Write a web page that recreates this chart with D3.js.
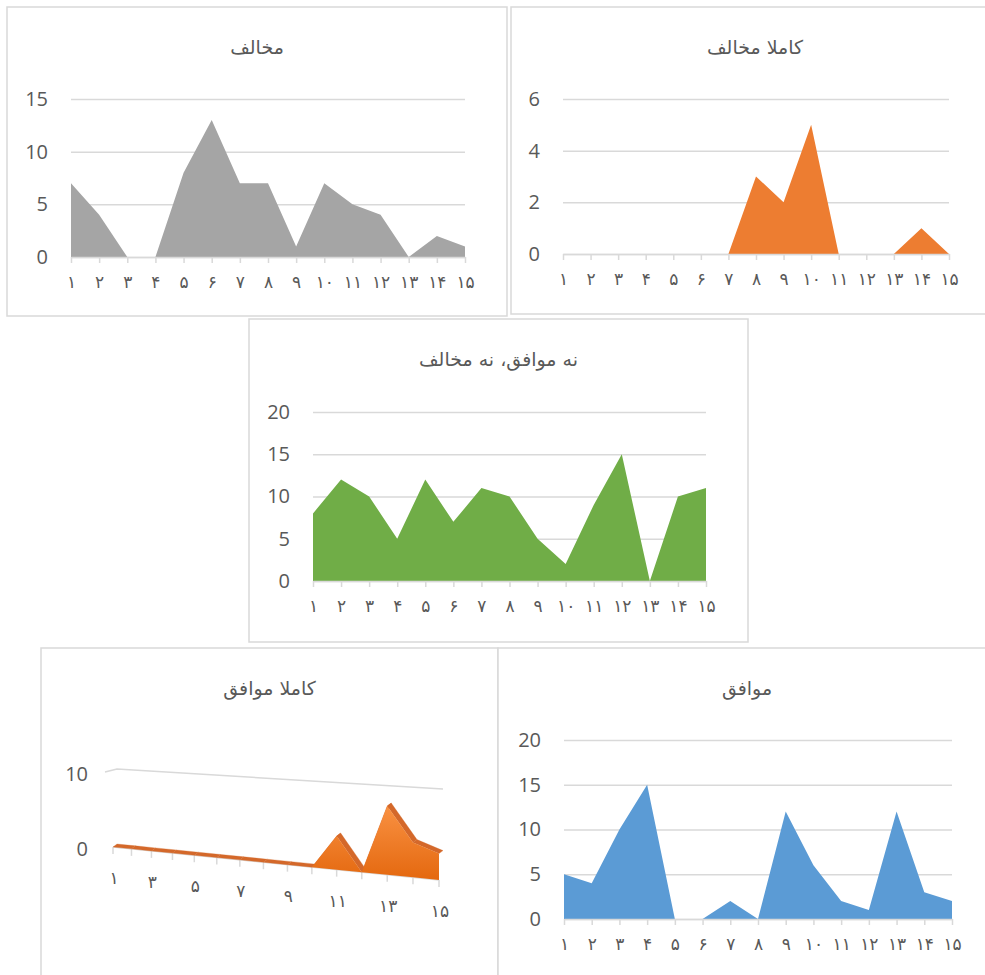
<!DOCTYPE html>
<html>
<head>
<meta charset="utf-8">
<script src="https://cdn.jsdelivr.net/npm/d3@7"></script>
<style>
  body { margin: 0; background: #fff; }
  svg { display: block; }
</style>
</head>
<body>
<div id="chart"></div>
<script>
// data
const categories = ["۱", "۲", "۳", "۴", "۵", "۶", "۷", "۸", "۹", "۱۰", "۱۱", "۱۲", "۱۳", "۱۴", "۱۵"]

const mokhalefValues = [7, 4, 0, 0, 8, 13, 7, 7, 1, 7, 5, 4, 0, 2, 1]
const kamelanMokhalefValues = [0, 0, 0, 0, 0, 0, 0, 3, 2, 5, 0, 0, 0, 1, 0]
const neutralValues = [8, 12, 10, 5, 12, 7, 11, 10, 5, 2, 9, 15, 0, 10, 11]
const movafeghValues = [5, 4, 10, 15, 0, 0, 2, 0, 12, 6, 2, 1, 12, 3, 2]
const kamelanMovafeghValues = [0, 0, 0, 0, 0, 0, 0, 0, 0, 0, 4, 0, 8, 4, 3]

const mokhalefTicks = [0, 5, 10, 15]
const kamelanMokhalefTicks = [0, 2, 4, 6]
const neutralTicks = [0, 5, 10, 15, 20]
const movafeghTicks = [0, 5, 10, 15, 20]
const kamelanMovafeghTicks = [0, 10]

const titles = ["مخالف", "کاملا مخالف", "نه موافق، نه مخالف", "کاملا موافق", "موافق"]

function drawCharts() {

  const width = 985
  const height = 975
  const gridColor = "#d9d9d9"
  const textColor = "#595959"
  const persianFont = "'DejaVu Sans', sans-serif"
  const numberFont = "'Open Sans', 'Noto Sans', sans-serif"

  const wrapper = d3.select("#chart")
    .append("svg")
      .attr("width", width)
      .attr("height", height)

  const defs = wrapper.append("defs")
  const grad = defs.append("linearGradient")
      .attr("id", "orange3d")
      .attr("x1", 0).attr("y1", 0)
      .attr("x2", 0).attr("y2", 1)
  grad.append("stop").attr("offset", "0%").attr("stop-color", "#f99142")
  grad.append("stop").attr("offset", "100%").attr("stop-color", "#e4680f")

  // panel frames
  const frames = [
    { x: 7, y: 7, w: 500, h: 309 },
    { x: 511, y: 7, w: 490, h: 307 },
    { x: 249, y: 319, w: 499, h: 323 },
    { x: 41, y: 648, w: 457, h: 340 },
    { x: 498, y: 648, w: 500, h: 340 },
  ]
  wrapper.selectAll("rect.frame")
    .data(frames)
    .join("rect")
      .attr("class", "frame")
      .attr("x", d => d.x)
      .attr("y", d => d.y)
      .attr("width", d => d.w)
      .attr("height", d => d.h)
      .attr("fill", "#fff")
      .attr("stroke", gridColor)
      .attr("stroke-width", 1.5)

  // titles
  wrapper.selectAll("text.title")
    .data(titles)
    .join("text")
      .attr("class", "title")
      .attr("x", (d, i) => frames[i].x + frames[i].w / 2 - (i == 1 || i == 4 ? 1 : 0))
      .attr("y", (d, i) => frames[i].y + 47)
      .attr("text-anchor", "middle")
      .style("font-family", persianFont)
      .style("font-size", "19px")
      .attr("fill", textColor)
      .text(d => d)

  const panels = [
    { values: mokhalefValues, ticks: mokhalefTicks, color: "#a5a5a5", x0: 71, x1: 465, y0: 257, yTop: 99 },
    { values: kamelanMokhalefValues, ticks: kamelanMokhalefTicks, color: "#ed7d31", x0: 563, x1: 949, y0: 254, yTop: 99 },
    { values: neutralValues, ticks: neutralTicks, color: "#70ad47", x0: 313, x1: 706, y0: 581, yTop: 412 },
    { values: movafeghValues, ticks: movafeghTicks, color: "#5b9bd5", x0: 564, x1: 952, y0: 919, yTop: 740 },
  ]

  panels.forEach(p => {
    const xScale = d3.scalePoint()
      .domain(categories)
      .range([p.x0, p.x1])

    const yScale = d3.scaleLinear()
      .domain([0, d3.max(p.ticks)])
      .range([p.y0, p.yTop])

    const yAxis = wrapper.append("g")
      .attr("transform", `translate(${p.x0},0)`)
      .call(d3.axisLeft(yScale)
        .tickValues(p.ticks)
        .tickFormat(d => d)
        .tickSize(-(p.x1 - p.x0))
        .tickPadding(23))
    yAxis.select(".domain").remove()
    yAxis.selectAll(".tick line")
      .attr("stroke", gridColor)
      .attr("stroke-width", 1.5)
    yAxis.selectAll(".tick text")
      .attr("fill", textColor)
      .style("font-family", numberFont)
      .style("font-size", "20px")

    const areaGenerator = d3.area()
      .x((d, i) => xScale(categories[i]))
      .y0(p.y0)
      .y1(d => yScale(d))

    wrapper.append("path")
      .attr("d", areaGenerator(p.values))
      .attr("fill", p.color)

    const xAxis = wrapper.append("g")
      .attr("transform", `translate(0,${p.y0})`)
      .call(d3.axisBottom(xScale)
        .tickSize(6)
        .tickSizeOuter(0)
        .tickPadding(13))
    xAxis.select(".domain")
      .attr("stroke", gridColor)
      .attr("stroke-width", 1.5)
    xAxis.selectAll(".tick line")
      .attr("stroke", gridColor)
      .attr("stroke-width", 1.5)
    xAxis.selectAll(".tick text")
      .attr("fill", textColor)
      .style("font-family", persianFont)
      .style("font-size", "17px")
  })

  // the 3D area panel (کاملا موافق)
  const index = categories.map((d, i) => i + 1)
  const x3d = d3.scalePow()
    .exponent(1.15)
    .domain([1, 15])
    .range([113, 439])
  const base3d = d3.scaleLinear()
    .domain([113, 439])
    .range([847, 880])
  const unit3d = d3.scaleLinear()
    .domain([113, 439])
    .range([7.5, 8.8])
  const depth = { dx: 4, dy: -3 }

  const project = (i, v) => {
    const x = x3d(i)
    return [x, base3d(x) - v * unit3d(x)]
  }

  // back wall gridline (value 10) with its bit of side wall
  const gridStart = project(1, 10)
  const gridEnd = project(15, 10)
  wrapper.append("path")
    .attr("d", d3.line()([
      [gridStart[0] - 8, gridStart[1]],
      [gridStart[0] + depth.dx, gridStart[1] + depth.dy],
      [gridEnd[0] + depth.dx, gridEnd[1] + depth.dy],
    ]))
    .attr("fill", "none")
    .attr("stroke", gridColor)
    .attr("stroke-width", 1.5)

  // floor line and ticks
  wrapper.append("path")
    .attr("d", d3.line()([project(1, 0), project(15, 0)]))
    .attr("stroke", gridColor)
    .attr("stroke-width", 1.5)
  wrapper.selectAll("line.tick3d")
    .data(index)
    .join("line")
      .attr("class", "tick3d")
      .attr("x1", d => project(d, 0)[0])
      .attr("x2", d => project(d, 0)[0])
      .attr("y1", d => project(d, 0)[1])
      .attr("y2", d => project(d, 0)[1] + 7)
      .attr("stroke", gridColor)
      .attr("stroke-width", 1.5)

  // top surfaces of the ribbon
  const pts = kamelanMovafeghValues.map((v, i) => project(i + 1, v))
  const tops = d3.pairs(pts)
  wrapper.selectAll("path.top3d")
    .data(tops)
    .join("path")
      .attr("class", "top3d")
      .attr("d", ([a, b]) => d3.line()([
        a, b,
        [b[0] + depth.dx, b[1] + depth.dy],
        [a[0] + depth.dx, a[1] + depth.dy],
      ]) + "Z")
      .attr("fill", "#d4682a")
      .attr("stroke", "#d4682a")
      .attr("stroke-width", 0.3)

  // front face
  const basePts = index.map(i => project(i, 0)).reverse()
  wrapper.append("path")
    .attr("d", d3.line()(pts.concat(basePts)) + "Z")
    .attr("fill", "url(#orange3d)")

  // labels
  wrapper.selectAll("text.x3d")
    .data(index.filter(i => i % 2 == 1))
    .join("text")
      .attr("class", "x3d")
      .attr("x", d => project(d, 0)[0] + 1)
      .attr("y", d => project(d, 0)[1] + 37)
      .attr("text-anchor", "middle")
      .style("font-family", persianFont)
      .style("font-size", "17px")
      .attr("fill", textColor)
      .text(d => categories[d - 1])

  wrapper.selectAll("text.y3d")
    .data(kamelanMovafeghTicks)
    .join("text")
      .attr("class", "y3d")
      .attr("x", project(1, 0)[0] - 25)
      .attr("y", d => project(1, d)[1] + 2)
      .attr("dy", "0.35em")
      .attr("text-anchor", "end")
      .style("font-family", numberFont)
      .style("font-size", "20px")
      .attr("fill", textColor)
      .text(d => d)
}

drawCharts()
</script>
</body>
</html>
